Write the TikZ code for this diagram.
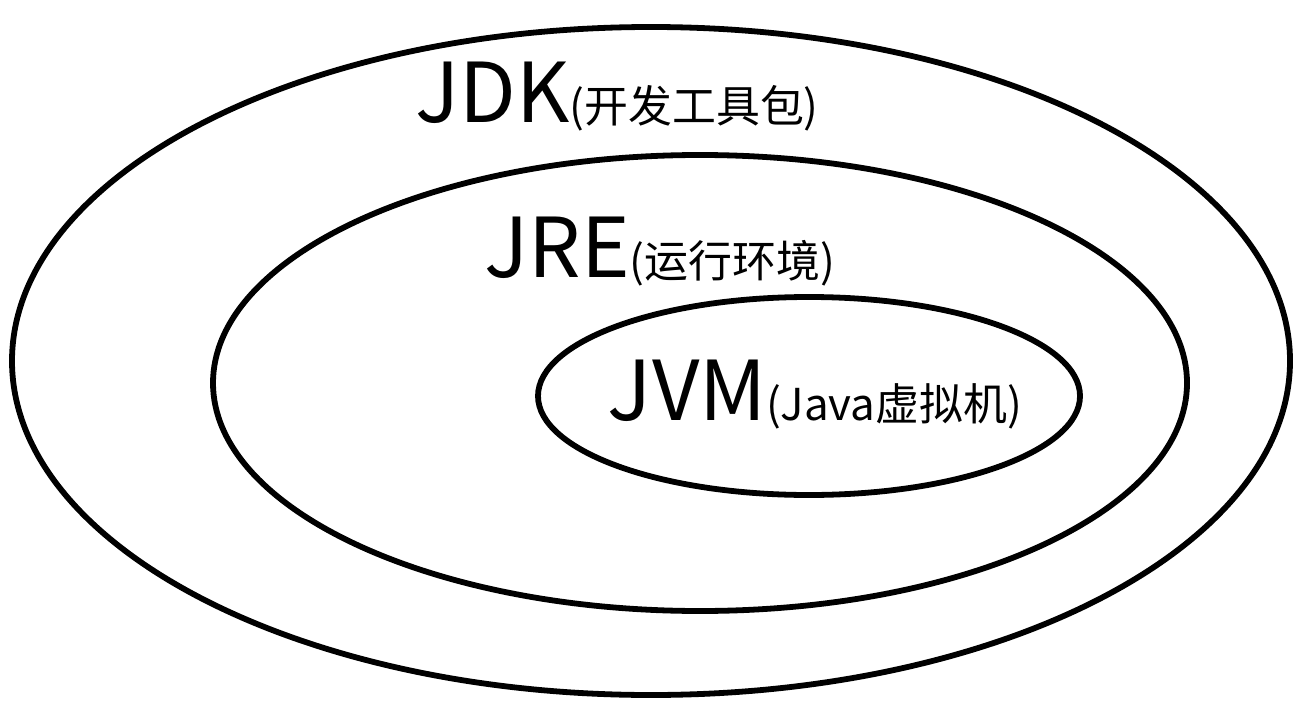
\documentclass[tikz,border=0pt]{standalone}
\usepackage{fontspec}
\setmainfont{Noto Sans CJK SC}
\begin{document}
\begin{tikzpicture}[x=0.02cm,y=-0.02cm]
                % Define styles for different elements
                \tikzstyle{layer} = [draw=black, line width=3.3pt]
                \tikzstyle{caption} = [inner sep=0pt, font=\fontsize{47}{50}\selectfont]

                \useasboundingbox (0,0) rectangle (1310,726);
                \fill[white] (0,0) rectangle (1310,726);

                % Draw the nested layers
                \draw[layer] (651,361) ellipse [x radius=639, y radius=334];
                \draw[layer] (700,383) ellipse [x radius=487, y radius=228];
                \draw[layer] (809,396) ellipse [x radius=271, y radius=99];

                % Add labels
                \node[caption] (jdk) at (617,97) {JDK{\fontsize{25}{28}\selectfont(开发工具包)}};
                \node[caption] (jre) at (660,252) {JRE{\fontsize{25}{28}\selectfont(运行环境)}};
                \node[caption] (jvm) at (815,395) {JVM{\fontsize{25}{28}\selectfont(Java虚拟机)}};
            \end{tikzpicture}
\end{document}
